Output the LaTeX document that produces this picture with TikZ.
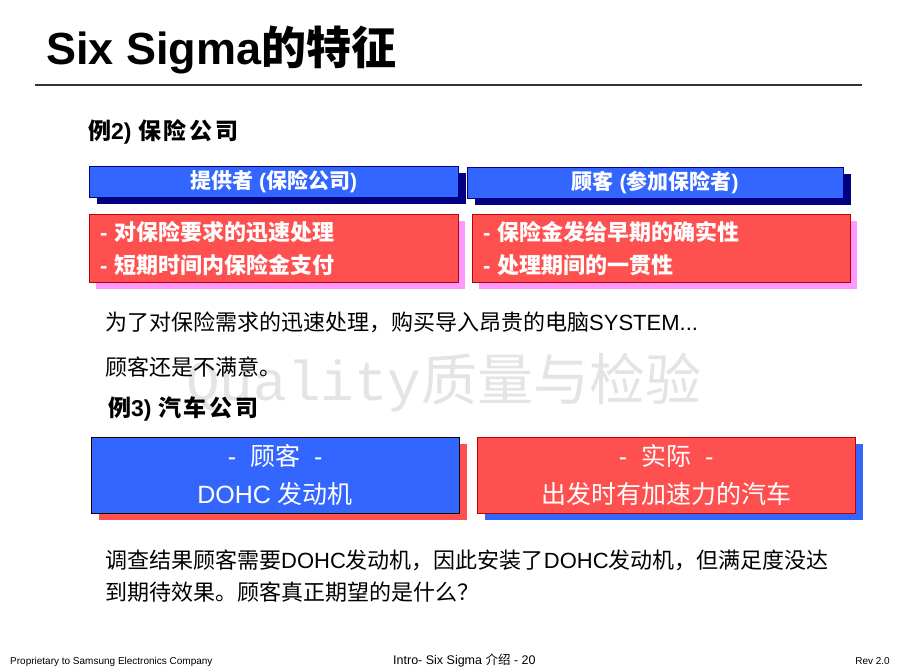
\documentclass[tikz,border=0pt]{standalone}
\usepackage{fontspec}
\setmainfont{Liberation Sans}
\setmonofont{Liberation Mono}
\newfontfamily\zhfont{Noto Sans CJK SC}
\newfontfamily\zhwide{Noto Sans CJK SC}[LetterSpace=12]
\newcommand{\zh}[1]{{\zhfont #1}}
\newcommand{\zhw}[1]{{\zhwide #1}}
\usetikzlibrary{positioning,shadows}
\definecolor{sigblue}{HTML}{3366FF}
\definecolor{signavy}{HTML}{000080}
\definecolor{sigred}{HTML}{FF5050}
\definecolor{sigdred}{HTML}{C00000}
\definecolor{sigpink}{HTML}{FF99FF}
\definecolor{sigmark}{HTML}{E4E4E4}
\definecolor{sigline}{HTML}{333333}
\tikzset{
  txt/.style={anchor=base west,inner sep=0pt,font=\fontsize{22}{26}\selectfont},
  subhd/.style={txt,font=\fontsize{23}{27}\selectfont\bfseries},
  hdr/.style={anchor=north west,draw=signavy,fill=sigblue,text=white,inner sep=0pt,minimum height=31pt,font=\fontsize{21}{25}\selectfont\bfseries,drop shadow={shadow xshift=8pt,shadow yshift=-7pt,fill=signavy,opacity=1}},
  item/.style={anchor=north west,draw=sigdred,fill=sigred,text=white,align=left,inner xsep=11pt,inner ysep=0pt,minimum height=68pt,font=\fontsize{22}{33}\selectfont\bfseries,drop shadow={shadow xshift=7pt,shadow yshift=-7pt,fill=sigpink,opacity=1}},
  car/.style={anchor=north west,text=white,align=center,inner sep=0pt,minimum height=76pt,font=\fontsize{25}{38}\selectfont,drop shadow={shadow xshift=8pt,shadow yshift=-7pt,opacity=1,fill=#1}},
  foot/.style={anchor=base west,inner sep=0pt,font=\fontsize{10}{12}\selectfont},
}
\begin{document}
\begin{tikzpicture}[x=1pt,y=-1pt]
  \useasboundingbox[fill=white] (0,0) rectangle (900,672);
  % watermark
  \node[anchor=base west,inner sep=0pt,text=sigmark,font=\fontsize{56}{60}\selectfont] (mark) at (186,400) {{\ttfamily Quality}\zh{质量与检验}};
  % title
  \node[anchor=base west,inner sep=0pt,font=\fontsize{45}{48}\selectfont\bfseries] (title) at (46,64) {Six Sigma\zh{的特征}};
  \coordinate (ruleL) at (35,85);
  \coordinate (ruleR) at (862,85);
  \draw[sigline,line width=2pt] (ruleL) -- (ruleR);
  % example 2
  \node[subhd] (sub2) at (88,139) {\zhw{例}2) \zhw{保险公司}};
  \node[hdr,minimum width=369pt] (hdrL) at (89,166) {\zh{提供者} (\zh{保险公司})};
  \node[hdr,minimum width=376pt] (hdrR) at (467,167) {\zh{顾客} (\zh{参加保险者})};
  \node[item,text width=347pt] (itemL) at (89,214) {- \zh{对保险要求的迅速处理}\\- \zh{短期时间内保险金支付}};
  \node[item,text width=356pt] (itemR) at (472,214) {- \zh{保险金发给早期的确实性}\\- \zh{处理期间的一贯性}};
  \node[txt] (note1) at (105,330) {\zh{为了对保险需求的迅速处理，购买导入昂贵的电脑}SYSTEM...};
  \node[txt] (note2) at (105,375) {\zh{顾客还是不满意。}};
  % example 3
  \node[subhd] (sub3) at (108,416) {\zhw{例}3) \zhw{汽车公司}};
  \node[car=sigred,draw=black,fill=sigblue,minimum width=368pt] (carL) at (91,437) {-~~\zh{顾客}~~-\\DOHC \zh{发动机}};
  \node[car=sigblue,draw=sigdred,fill=sigred,minimum width=378pt] (carR) at (477,437) {-~~\zh{实际}~~-\\\zh{出发时有加速力的汽车}};
  \node[txt] (ask1) at (105,568) {\zh{调查结果顾客需要}DOHC\zh{发动机，因此安装了}DOHC\zh{发动机，但满足度没达}};
  \node[txt] (ask2) at (105,600) {\zh{到期待效果。顾客真正期望的是什么？}};
  % footer
  \node[foot] (footL) at (10,664) {Proprietary to Samsung Electronics Company};
  \node[foot,font=\fontsize{12.5}{14}\selectfont] (footC) at (393,664) {Intro- Six Sigma \zh{介绍} - 20};
  \node[foot,anchor=base east] (footR) at (890,664) {Rev 2.0};
\end{tikzpicture}
\end{document}
